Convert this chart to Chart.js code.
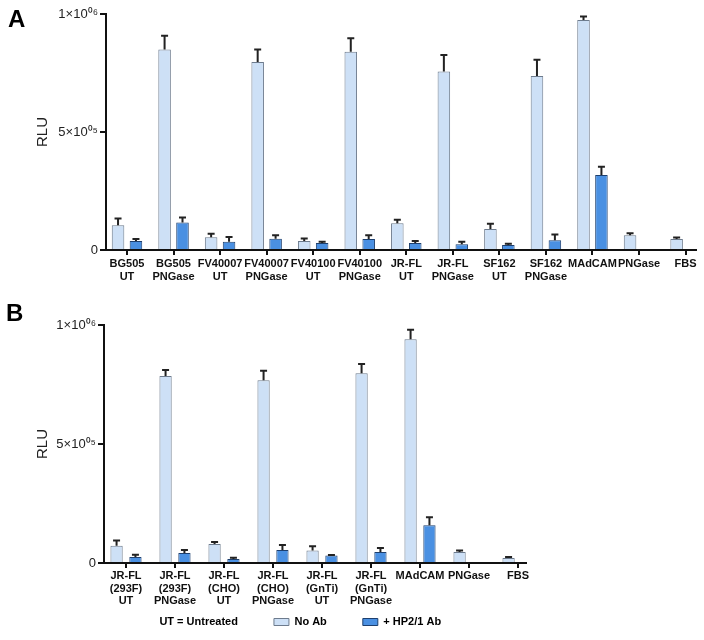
<!DOCTYPE html>
<html><head><meta charset="utf-8">
<script src="https://cdn.jsdelivr.net/npm/chart.js@4.4.1/dist/chart.umd.min.js"></script>
<style>
html,body{margin:0;padding:0;background:#fff;overflow:hidden;}
#wrapA{position:absolute;left:0;top:0;width:704px;height:300px;}
#wrapB{position:absolute;left:0;top:300px;width:704px;height:340px;}
</style></head><body>
<div id="wrapA"><canvas id="chartA" width="704" height="300"></canvas></div>
<div id="wrapB"><canvas id="chartB" width="704" height="340"></canvas></div>
<script>
// ---------- DATA ----------
const panelLabels = ['A', 'B'];
const seriesNames = ['No Ab', '+ HP2/1 Ab'];
const legendNote = 'UT = Untreated';
const yAxisTitle = 'RLU';
const yTickValues = [0, 500000, 1000000];
const yTickLabels = ['0', '5\u00D710\u2070\u2075', '1\u00D710\u2070\u2076'];

const categoriesA = [
  ['BG505', 'UT'], ['BG505', 'PNGase'], ['FV40007', 'UT'], ['FV40007', 'PNGase'],
  ['FV40100', 'UT'], ['FV40100', 'PNGase'], ['JR-FL', 'UT'], ['JR-FL', 'PNGase'],
  ['SF162', 'UT'], ['SF162', 'PNGase'], 'MAdCAM', 'PNGase', 'FBS'
];
const noAbA    = [104500, 850000, 54000, 797000, 38000, 840000, 113000, 756000, 89000, 737000, 975000, 62000, 47000];
const noAbErrA = [29500, 58000, 15000, 53000, 11000, 57000, 15500, 70000, 22500, 69000, 14000, 8500, 5500];
const hpA      = [38000, 117000, 35000, 48000, 30000, 47000, 30000, 24000, 21000, 41000, 318000, null, null];
const hpErrA   = [8500, 21000, 20000, 14000, 5000, 15000, 8000, 11000, 6000, 25000, 35000, null, null];

const categoriesB = [
  ['JR-FL', '(293F)', 'UT'], ['JR-FL', '(293F)', 'PNGase'], ['JR-FL', '(CHO)', 'UT'],
  ['JR-FL', '(CHO)', 'PNGase'], ['JR-FL', '(GnTi)', 'UT'], ['JR-FL', '(GnTi)', 'PNGase'],
  'MAdCAM', 'PNGase', 'FBS'
];
const noAbB    = [72700, 786000, 80000, 768000, 52000, 797000, 940000, 46000, 21000];
const noAbErrB = [22300, 25000, 8000, 40000, 18000, 39000, 40000, 6000, 4000];
const hpB      = [25000, 42000, 17000, 54500, 31000, 46000, 159000, null, null];
const hpErrB   = [10000, 12500, 5000, 21000, 2600, 17000, 33000, null, null];

// ---------- STYLE ----------
const FONT = "'Liberation Sans', Arial, sans-serif";
const NARROW = "'Liberation Sans Narrow', 'Liberation Sans', Arial, sans-serif";
Chart.defaults.font.family = FONT;
Chart.defaults.color = '#111';
const lightFill = '#cde0f6', lightBorder = '#6d7b8d';
const darkFill = '#4a90e2', darkBorder = '#1d3f6e';

const errorBarPlugin = {
  id: 'errbars',
  afterDatasetsDraw(chart) {
    const ctx = chart.ctx, y = chart.scales.y;
    chart.data.datasets.forEach((ds, di) => {
      const meta = chart.getDatasetMeta(di);
      meta.data.forEach((bar, i) => {
        const v = ds.data[i], e = ds.errors[i];
        if (v == null || e == null) return;
        const yTop = y.getPixelForValue(v + e), yBase = y.getPixelForValue(v);
        ctx.save();
        ctx.strokeStyle = '#222'; ctx.lineWidth = 2;
        ctx.beginPath();
        ctx.moveTo(bar.x, yBase); ctx.lineTo(bar.x, yTop);
        ctx.moveTo(bar.x - 3.5, yTop); ctx.lineTo(bar.x + 3.5, yTop);
        ctx.stroke();
        ctx.restore();
      });
    });
  }
};

const panelLabelPlugin = {
  id: 'panelLabel',
  afterDraw(chart, args, opts) {
    const ctx = chart.ctx;
    ctx.save();
    ctx.font = 'bold 24px ' + FONT;
    ctx.fillStyle = '#000';
    ctx.textBaseline = 'alphabetic';
    ctx.fillText(opts.text, opts.x, opts.y);
    ctx.restore();
  }
};

const legendShiftPlugin = {
  id: 'legendShift',
  afterLayout(chart, args, opts) {
    const lg = chart.legend;
    if (!lg || !opts || !opts.enabled) return;
    lg.left += opts.dx; lg.right += opts.dx;
    lg.top += opts.dy;
    lg.bottom = lg.top + opts.h;
    lg.height = opts.h;
  }
};

function yAxis(w) {
  return {
    min: 0, max: 1000000,
    ticks: {
      stepSize: 500000,
      callback: (v) => { const k = yTickValues.indexOf(v); return k < 0 ? '' : yTickLabels[k]; },
      font: { size: 13 }, color: '#222', padding: 2
    },
    grid: { display: true, drawOnChartArea: false, drawTicks: true, tickLength: 6, color: '#111', lineWidth: 2 },
    border: { display: true, color: '#111', width: 2 },
    title: { display: true, text: yAxisTitle, font: { size: 15 }, color: '#222', padding: { top: 34, bottom: 0 } },
    afterFit: (s) => { s.width = w; }
  };
}
// x axis: numeric category positions so group centres can be placed like the reference
function xAxis(h, font, cats, min, max) {
  return {
    type: 'linear', min: min, max: max, offset: false,
    ticks: {
      stepSize: 1, includeBounds: false, autoSkip: false, maxRotation: 0, minRotation: 0,
      font: font, color: '#111', padding: 2,
      callback: (v) => (Number.isInteger(v) && cats[v] !== undefined) ? cats[v] : ''
    },
    grid: { offset: false, display: true, drawOnChartArea: false, drawTicks: true, tickLength: 5, color: '#111', lineWidth: 2 },
    border: { display: true, color: '#111', width: 2 },
    afterFit: (s) => { s.height = h; }
  };
}
function datasets(noAb, noAbErr, hp, hpErr) {
  return [
    { label: seriesNames[0], data: noAb, errors: noAbErr, backgroundColor: lightFill, borderColor: lightBorder, borderWidth: 1 },
    { label: seriesNames[1], data: hp, errors: hpErr, backgroundColor: darkFill, borderColor: darkBorder, borderWidth: 1 }
  ];
}

new Chart(document.getElementById('chartA'), {
  type: 'bar',
  data: { labels: categoriesA.map((c, i) => i), datasets: datasets(noAbA, noAbErrA, hpA, hpErrA) },
  options: {
    responsive: false, animation: false,
    datasets: { bar: { categoryPercentage: 0.77, barPercentage: 0.70 } },
    layout: { padding: { left: 0, top: 14, right: 8, bottom: 0 } },
    scales: {
      x: xAxis(50, { size: 11, weight: 'bold', lineHeight: 1.2 }, categoriesA, -0.451, 12.224),
      y: yAxis(106)
    },
    plugins: {
      legend: { display: false }, tooltip: { enabled: false },
      panelLabel: { text: panelLabels[0], x: 8, y: 27 }
    }
  },
  plugins: [errorBarPlugin, panelLabelPlugin]
});

new Chart(document.getElementById('chartB'), {
  type: 'bar',
  data: { labels: categoriesB.map((c, i) => i), datasets: datasets(noAbB, noAbErrB, hpB, hpErrB) },
  options: {
    responsive: false, animation: false,
    datasets: { bar: { categoryPercentage: 0.77, barPercentage: 0.65 } },
    layout: { padding: { left: 0, top: 25, right: 178, bottom: 14 } },
    scales: {
      x: xAxis(48, { size: 11, weight: 'bold', lineHeight: 1.12, family: NARROW }, categoriesB, -0.449, 8.163),
      y: yAxis(104)
    },
    plugins: {
      tooltip: { enabled: false },
      legend: {
        display: true, position: 'bottom', align: 'center', maxHeight: 15,
        labels: {
          boxWidth: 15, boxHeight: 7, padding: 36, color: '#111',
          font: { size: 11, weight: 'bold' },
          generateLabels: (chart) => [
            { text: legendNote, fillStyle: 'rgba(0,0,0,0)', strokeStyle: 'rgba(0,0,0,0)', lineWidth: 0, hidden: false, datasetIndex: -1 },
            { text: seriesNames[0], fillStyle: lightFill, strokeStyle: lightBorder, lineWidth: 1, hidden: false, datasetIndex: 0 },
            { text: seriesNames[1], fillStyle: darkFill, strokeStyle: darkBorder, lineWidth: 1, hidden: false, datasetIndex: 1 }
          ]
        }
      },
      legendShift: { enabled: true, dx: 27, dy: -30.5, h: 60 },
      panelLabel: { text: panelLabels[1], x: 6, y: 21 }
    }
  },
  plugins: [errorBarPlugin, panelLabelPlugin, legendShiftPlugin]
});
</script>
</body></html>
